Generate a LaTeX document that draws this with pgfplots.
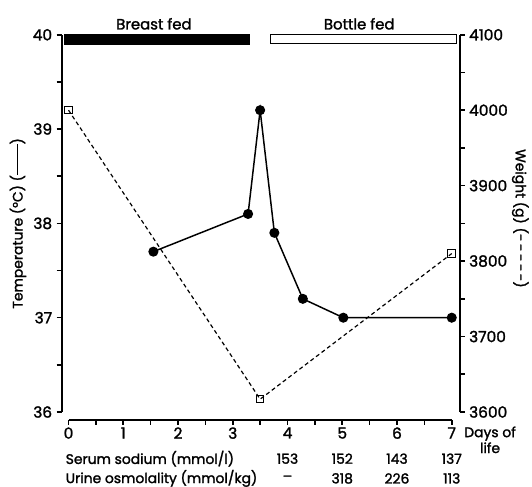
\documentclass[border=0pt]{standalone}
\usepackage{fontspec}
\setmainfont{Poppins}[FakeBold=1.6]
\usepackage{pgfplots}
\pgfplotsset{compat=1.18}
\begin{document}
\begin{tikzpicture}[font=\fontsize{14bp}{16bp}\selectfont]
\pgfplotsset{
  common/.style={
    scale only axis, width=386bp, height=380bp,
    xmin=0, xmax=7, clip=false,
    tick align=outside,
    major tick length=5bp, minor tick length=5bp,
    axis line style={line width=1.9pt},
    every tick/.style={black, line width=1.6pt},
    tick label style={font=\fontsize{15.5bp}{17bp}\selectfont},
    /pgf/number format/assume math mode=true,
    /pgf/number format/1000 sep={},
  }
}
\begin{axis}[common,
  ymin=36, ymax=40,
  axis y line*=left, axis x line*=bottom,
  axis y line shift=7bp, axis x line shift=8bp,
  xtick={0,...,7}, minor xtick={0.5,1.5,...,6.5},
  ytick={36,...,40}, minor ytick={36.5,37.5,38.5,39.5},
  yticklabel style={xshift=-1bp},
  xticklabel style={yshift=1bp},
]
% feeding bars
\addplot[fill=black, draw=black, line width=0.6pt] coordinates {(-0.078,39.895) (3.30,39.895) (3.30,40) (-0.078,40)} -- cycle;
\addplot[fill=white, draw=black, line width=0.8pt] coordinates {(3.68,39.905) (7.09,39.905) (7.09,40) (3.68,40)} -- cycle;
% temperature
\addplot[black, line width=1.5pt, mark=*, mark size=4.3bp] coordinates {
  (1.55,37.7) (3.28,38.1) (3.5,39.2) (3.76,37.9) (4.28,37.2) (5.02,37.0) (7.0,37.0)};
\node[font=\fontsize{15bp}{17bp}\selectfont] at (axis cs:1.56,40.116) {Breast fed};
\node[font=\fontsize{15bp}{17bp}\selectfont] at (axis cs:5.31,40.116) {Bottle fed};
\node[rotate=90] at (rel axis cs:-0.132,0.5) {Temperature (°C) (\rule[0.3em]{2.2em}{1.2pt})};
\node[align=center, inner sep=0pt, font=\fontsize{14bp}{16bp}\selectfont] at (axis cs:7.7,35.705) {Days of\\life};
\node[anchor=west, inner sep=0pt] at (axis cs:-0.054,35.505) {Serum sodium (mmol/l)};
\node[anchor=west, inner sep=0pt] at (axis cs:-0.054,35.296) {Urine osmolality (mmol/kg)};
\node at (axis cs:4,35.505) {153};
\node at (axis cs:5,35.505) {152};
\node at (axis cs:6,35.505) {143};
\node at (axis cs:7,35.505) {137};
\node at (axis cs:4,35.296) {–};
\node at (axis cs:5,35.296) {318};
\node at (axis cs:6,35.296) {226};
\node at (axis cs:7,35.296) {113};
\path (rel axis cs:-0.1788,-0.1947) rectangle (rel axis cs:1.1995,1.0921);
\end{axis}
\begin{axis}[common,
  ymin=3600, ymax=4100,
  axis y line*=right, axis x line=none,
  axis y line shift=8bp,
  ytick={3600,3700,...,4100}, minor ytick={3650,3750,...,4050},
  yticklabel style={xshift=1bp},
]
\addplot[black, line width=1.2pt, dash pattern=on 4bp off 3bp, mark=square, mark size=3.8bp,
  mark options={solid, fill=white, line width=1pt}] coordinates {(0,4000) (3.5,3617) (7,3810)};
\node[rotate=-90] at (rel axis cs:1.179,0.513) {Weight (g) (-\,-\,-\,-\,-)};
\end{axis}
\end{tikzpicture}
\end{document}
